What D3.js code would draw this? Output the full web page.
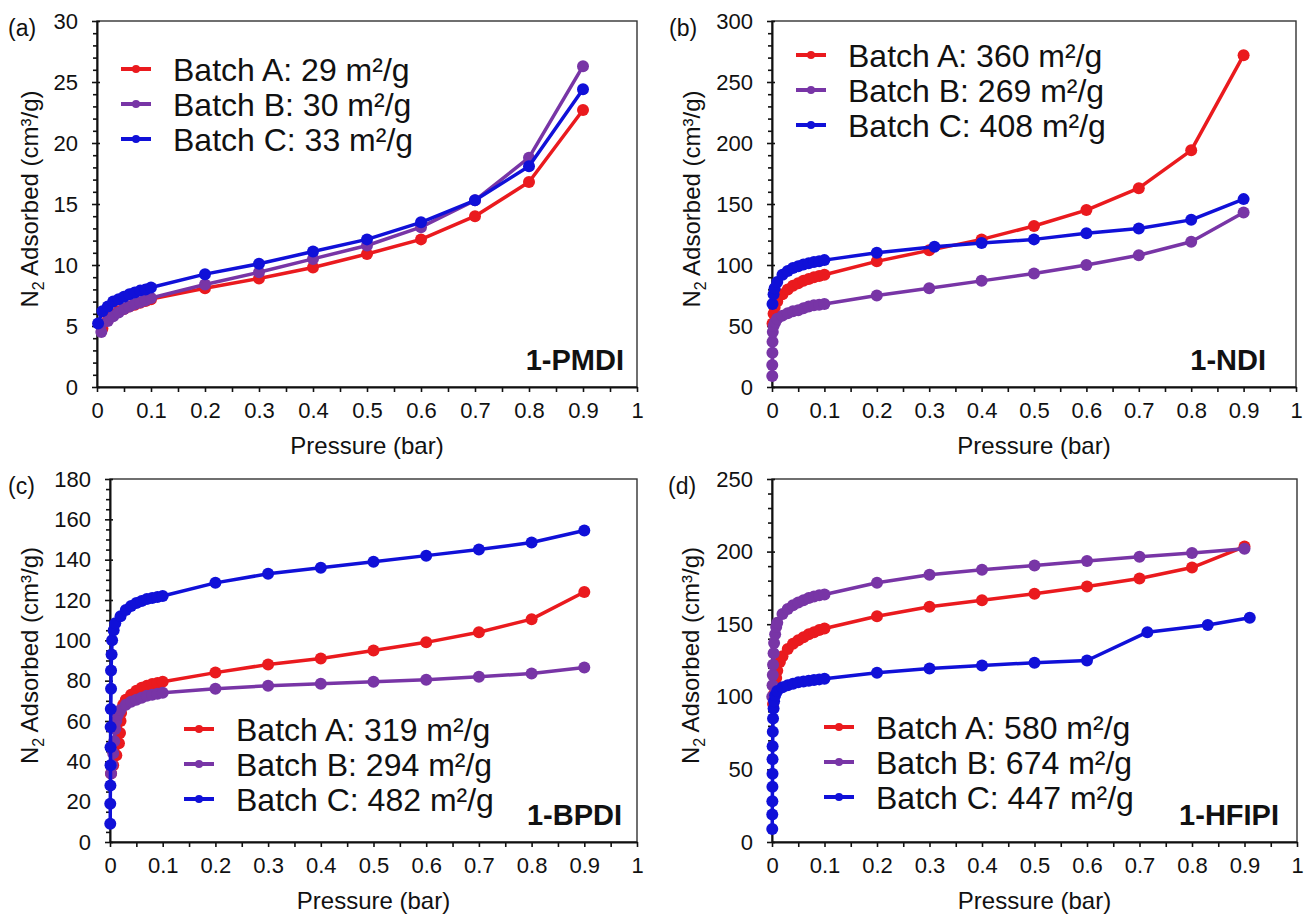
<!DOCTYPE html>
<html>
<head>
<meta charset="utf-8">
<script src="https://cdn.jsdelivr.net/npm/d3@7"></script>
<style>
  body { margin: 0; background: #fff; }
  svg { display: block; }
  text { font-family: "Liberation Sans", Arial, sans-serif; fill: #111; }
</style>
</head>
<body>
<svg id="chart" width="1304" height="915"></svg>
<script>
// ---- Series: [pressure (bar), N2 adsorbed (cm3/g)] ----
const batchNames = ["Batch A", "Batch B", "Batch C"];

// 1-PMDI
const pmdiBatchA = [[0.01,4.8],[0.02,5.5],[0.03,5.9],[0.04,6.2],[0.05,6.4],[0.06,6.6],[0.07,6.75],[0.08,6.9],[0.09,7.05],[0.1,7.2],[0.2,8.1],[0.3,8.9],[0.4,9.8],[0.5,10.9],[0.6,12.1],[0.7,14.0],[0.8,16.8],[0.9,22.7]];
const pmdiBatchB = [[0.008,4.5],[0.02,5.4],[0.03,5.8],[0.04,6.1],[0.05,6.4],[0.06,6.6],[0.07,6.8],[0.08,6.95],[0.09,7.1],[0.1,7.3],[0.2,8.4],[0.3,9.4],[0.4,10.5],[0.5,11.6],[0.6,13.1],[0.7,15.3],[0.8,18.8],[0.9,26.3]];
const pmdiBatchC = [[0.002,5.2],[0.01,6.2],[0.02,6.6],[0.03,7.0],[0.04,7.2],[0.05,7.4],[0.06,7.6],[0.07,7.75],[0.08,7.9],[0.09,8.0],[0.1,8.15],[0.2,9.25],[0.3,10.1],[0.4,11.1],[0.5,12.1],[0.6,13.5],[0.7,15.3],[0.8,18.1],[0.9,24.4]];
const pmdiAreas = [29, 30, 33];
const pmdiTicks = [0, 5, 10, 15, 20, 25, 30];

// 1-NDI
const ndiBatchA = [[0.001,52],[0.003,60],[0.005,65],[0.01,70],[0.02,76],[0.03,80],[0.04,83],[0.05,85],[0.06,87],[0.07,88.5],[0.08,90],[0.09,91],[0.1,92],[0.2,103],[0.3,112],[0.4,121],[0.5,132],[0.6,145],[0.7,163],[0.8,194],[0.9,272]];
const ndiBatchB = [[0.0005,9],[0.0005,18],[0.0008,28],[0.001,37],[0.0015,45],[0.003,50],[0.006,53],[0.01,56],[0.02,58.5],[0.03,60.5],[0.04,62],[0.05,63],[0.06,64.5],[0.07,66],[0.08,67],[0.09,67.5],[0.1,68],[0.2,75],[0.3,81],[0.4,87],[0.5,93],[0.6,100],[0.7,108],[0.8,119],[0.9,143]];
const ndiBatchC = [[0.001,68],[0.003,76],[0.005,81],[0.01,86],[0.02,92],[0.03,95],[0.04,97.5],[0.05,99],[0.06,100.5],[0.07,101.5],[0.08,102.5],[0.09,103],[0.1,104],[0.2,110],[0.31,115],[0.4,118],[0.5,121],[0.6,126],[0.7,130],[0.8,137],[0.9,154]];
const ndiAreas = [360, 269, 408];
const ndiTicks = [0, 50, 100, 150, 200, 250, 300];

// 1-BPDI
const bpdiBatchA = [[0.002,34],[0.006,38],[0.012,43],[0.017,49],[0.019,54],[0.02,60],[0.021,64],[0.025,68],[0.03,70.5],[0.04,73],[0.05,75],[0.06,76.5],[0.07,77.5],[0.08,78.3],[0.09,78.8],[0.1,79.5],[0.2,84],[0.3,88],[0.4,91],[0.5,95],[0.6,99],[0.7,104],[0.8,110.5],[0.9,124]];
const bpdiBatchB = [[0.002,34],[0.004,38],[0.006,44],[0.008,50],[0.01,56],[0.012,60],[0.015,63],[0.02,65.5],[0.03,68],[0.04,69.5],[0.05,70.5],[0.06,71.5],[0.07,72.5],[0.08,73],[0.09,73.5],[0.1,74],[0.2,76],[0.3,77.5],[0.4,78.5],[0.5,79.5],[0.6,80.5],[0.7,82],[0.8,83.5],[0.9,86.5]];
const bpdiBatchC = [[0.0005,9],[0.0005,19],[0.0008,28],[0.001,38],[0.001,47],[0.0012,57],[0.0015,66],[0.002,76],[0.002,85],[0.003,93],[0.004,100],[0.007,105],[0.01,108.5],[0.02,112],[0.03,115],[0.04,117],[0.05,118.5],[0.06,119.5],[0.07,120.5],[0.08,121],[0.09,121.5],[0.1,122],[0.2,128.5],[0.3,133],[0.4,136],[0.5,139],[0.6,142],[0.7,145],[0.8,148.5],[0.9,154.5]];
const bpdiAreas = [319, 294, 482];
const bpdiTicks = [0, 20, 40, 60, 80, 100, 120, 140, 160, 180];

// 1-HFIPI
const hfipiBatchA = [[0.002,95],[0.004,102],[0.006,108],[0.008,113],[0.01,118],[0.015,124],[0.02,128],[0.03,133],[0.04,136.5],[0.05,139],[0.06,141],[0.07,143],[0.08,144.5],[0.09,146],[0.1,147],[0.2,155.5],[0.3,162],[0.4,166.5],[0.5,171],[0.6,176],[0.7,181.5],[0.8,189],[0.9,203.5]];
const hfipiBatchB = [[0.0005,100],[0.001,108],[0.0015,115],[0.002,122],[0.003,130],[0.004,137],[0.006,143],[0.008,148],[0.01,151],[0.02,157],[0.03,160.5],[0.04,163],[0.05,165],[0.06,166.5],[0.07,168],[0.08,169],[0.09,170],[0.1,170.5],[0.2,178.5],[0.3,184],[0.4,187.5],[0.5,190.5],[0.6,193.5],[0.7,196.5],[0.8,199],[0.9,202]];
const hfipiBatchC = [[0.0005,9],[0.0005,19],[0.0007,28],[0.0008,38],[0.001,47],[0.001,57],[0.0012,66],[0.0015,76],[0.002,85],[0.003,92],[0.004,97],[0.006,101],[0.01,104],[0.02,106.5],[0.03,108],[0.04,109],[0.05,110],[0.06,110.5],[0.07,111],[0.08,111.5],[0.09,112],[0.1,112.5],[0.2,116.5],[0.3,119.5],[0.4,121.5],[0.5,123.5],[0.6,125],[0.715,144.5],[0.83,149.5],[0.91,154.5]];
const hfipiAreas = [580, 674, 447];
const hfipiTicks = [0, 50, 100, 150, 200, 250];

const pressureTicks = [0, 0.1, 0.2, 0.3, 0.4, 0.5, 0.6, 0.7, 0.8, 0.9, 1];
const pressureTickLabels = ["0", "0.1", "0.2", "0.3", "0.4", "0.5", "0.6", "0.7", "0.8", "0.9", "1"];

// ---- Drawing ----
const colors = ["#ea1a1e", "#7835a6", "#1010d8"];
const svg = d3.select("#chart");

const panels = [
  { letter: "(a)", name: "1-PMDI", series: [pmdiBatchA, pmdiBatchB, pmdiBatchC], areas: pmdiAreas, yTicks: pmdiTicks, yMinor: 1,
    left: 97, right: 637, top: 21, bottom: 387, letterX: 8, titleX: 30, nameRight: 624, legendX: 121, legendY: 69 },
  { letter: "(b)", name: "1-NDI", series: [ndiBatchA, ndiBatchB, ndiBatchC], areas: ndiAreas, yTicks: ndiTicks, yMinor: 10,
    left: 772, right: 1296, top: 21, bottom: 387, letterX: 669, titleX: 692, nameRight: 1266, legendX: 796, legendY: 55 },
  { letter: "(c)", name: "1-BPDI", series: [bpdiBatchA, bpdiBatchB, bpdiBatchC], areas: bpdiAreas, yTicks: bpdiTicks, yMinor: 5,
    left: 110, right: 637, top: 479, bottom: 842, letterX: 8, titleX: 30, nameRight: 622, legendX: 184, legendY: 729 },
  { letter: "(d)", name: "1-HFIPI", series: [hfipiBatchA, hfipiBatchB, hfipiBatchC], areas: hfipiAreas, yTicks: hfipiTicks, yMinor: 10,
    left: 772, right: 1297, top: 479, bottom: 842, letterX: 668, titleX: 691, nameRight: 1279, legendX: 824, legendY: 727 }
];

function drawPanel(p) {
  const g = svg.append("g");
  const yMax = p.yTicks[p.yTicks.length - 1];
  const x = d3.scaleLinear().domain([0, 1]).range([p.left, p.right]);
  const y = d3.scaleLinear().domain([0, yMax]).range([p.bottom, p.top]);

  // box outline
  g.append("rect")
    .attr("x", p.left).attr("y", p.top)
    .attr("width", p.right - p.left).attr("height", p.bottom - p.top)
    .attr("fill", "none").attr("stroke", "#333").attr("stroke-width", 1.4);

  // minor ticks
  const yMinorVals = d3.range(0, yMax + 1e-9, p.yMinor).filter(v => !p.yTicks.includes(v));
  g.append("g").attr("transform", `translate(${p.left},0)`)
    .call(d3.axisLeft(y).tickValues(yMinorVals).tickFormat("").tickSize(4).tickSizeOuter(0))
    .call(a => a.select(".domain").remove());
  const xMinorVals = d3.range(0.05, 1, 0.1);
  g.append("g").attr("transform", `translate(0,${p.bottom})`)
    .call(d3.axisBottom(x).tickValues(xMinorVals).tickFormat("").tickSize(5).tickSizeOuter(0))
    .call(a => a.select(".domain").remove());

  // major y axis
  const yAxis = g.append("g").attr("transform", `translate(${p.left},0)`)
    .call(d3.axisLeft(y).tickValues(p.yTicks).tickSize(5).tickSizeOuter(0).tickPadding(14));
  yAxis.selectAll(".tick line").attr("x1", 3);
  yAxis.selectAll(".tick text").attr("font-size", 22).attr("font-family", null).attr("fill", "#111");

  // major x axis
  const xAxis = g.append("g").attr("transform", `translate(0,${p.bottom})`)
    .call(d3.axisBottom(x).tickValues(pressureTicks)
      .tickFormat((d, i) => pressureTickLabels[i]).tickSize(5).tickSizeOuter(0).tickPadding(10));
  xAxis.selectAll(".tick text").attr("font-size", 22).attr("font-family", null).attr("fill", "#111");

  [yAxis, xAxis].forEach(a => a.select(".domain").attr("stroke", "#111").attr("stroke-width", 2));
  g.selectAll(".tick line").attr("stroke", "#111").attr("stroke-width", 1.6);

  // axis titles
  g.append("text")
    .attr("x", (p.left + p.right) / 2).attr("y", p.bottom + 67)
    .attr("text-anchor", "middle").attr("font-size", 24)
    .text("Pressure (bar)");

  const yt = g.append("text")
    .attr("transform", `translate(${p.titleX},${(p.top + p.bottom) / 2 - 5}) rotate(-90)`)
    .attr("text-anchor", "middle").attr("dy", "0.35em").attr("font-size", 24);
  yt.append("tspan").text("N");
  yt.append("tspan").attr("font-size", 16).attr("dy", 6).text("2");
  yt.append("tspan").attr("dy", -6).text(" Adsorbed (cm³/g)");

  // panel letter
  g.append("text").attr("x", p.letterX).attr("y", p.top + 15)
    .attr("font-size", 23).text(p.letter);

  // sample name
  g.append("text").attr("x", p.nameRight).attr("y", p.bottom - 17)
    .attr("text-anchor", "end").attr("font-size", 29).attr("font-weight", "bold")
    .text(p.name);

  // series
  const line = d3.line().x(d => x(d[0])).y(d => y(d[1]));
  p.series.forEach((s, i) => {
    const sg = g.append("g");
    sg.append("path").datum(s).attr("d", line)
      .attr("fill", "none").attr("stroke", colors[i]).attr("stroke-width", 3.5)
      .attr("stroke-linejoin", "round");
    sg.selectAll("circle").data(s).join("circle")
      .attr("cx", d => x(d[0])).attr("cy", d => y(d[1])).attr("r", 6)
      .attr("fill", colors[i]);
  });

  // legend
  batchNames.forEach((nm, i) => {
    const ly = p.legendY + i * 35;
    g.append("line").attr("x1", p.legendX).attr("x2", p.legendX + 30)
      .attr("y1", ly).attr("y2", ly).attr("stroke", colors[i]).attr("stroke-width", 4);
    g.append("circle").attr("cx", p.legendX + 15).attr("cy", ly).attr("r", 4).attr("fill", colors[i]);
    g.append("text").attr("x", p.legendX + 52).attr("y", ly).attr("dy", "0.36em")
      .attr("font-size", 32).text(`${nm}: ${p.areas[i]} m²/g`);
  });
}

panels.forEach(drawPanel);
</script>
</body>
</html>
